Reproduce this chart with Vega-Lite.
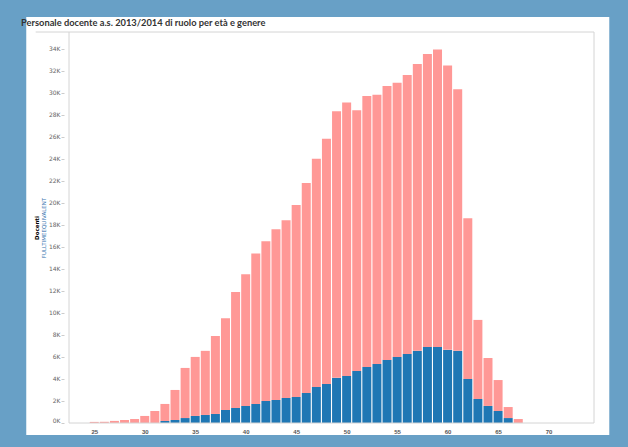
{
  "$schema": "https://vega.github.io/schema/vega-lite/v6.json",
  "width": 535,
  "height": 391,
  "autosize": {"type": "none"},
  "padding": {"left": 64, "top": 32, "right": 29, "bottom": 24},
  "background": "#ffffff",
  "title": {
    "text": "Personale docente a.s. 2013/2014 di ruolo per età e genere",
    "anchor": "start",
    "frame": "group",
    "dx": -43,
    "dy": 65,
    "offset": 4,
    "fontSize": 9.3,
    "font": "Lato",
    "fontWeight": "bold",
    "color": "#333333"
  },
  "config": {
    "view": {"stroke": null},
    "axisX": {
      "title": null,
      "ticks": false,
      "domain": false,
      "grid": false,
      "labelFlush": false,
      "labelOverlap": false,
      "labelFontSize": 6,
      "labelFontWeight": "bold",
      "labelColor": "#555555",
      "labelPadding": 5
    }
  },
  "resolve": {"axis": {"y": "independent"}},
  "data": {
    "values": [
      {"eta": 25, "genere": "Femmine", "docenti": 100},
      {"eta": 26, "genere": "Femmine", "docenti": 110},
      {"eta": 27, "genere": "Femmine", "docenti": 190},
      {"eta": 28, "genere": "Femmine", "docenti": 270},
      {"eta": 29, "genere": "Femmine", "docenti": 360},
      {"eta": 30, "genere": "Femmine", "docenti": 640},
      {"eta": 31, "genere": "Femmine", "docenti": 1090},
      {"eta": 32, "genere": "Maschi", "docenti": 180},
      {"eta": 32, "genere": "Femmine", "docenti": 1550},
      {"eta": 33, "genere": "Maschi", "docenti": 270},
      {"eta": 33, "genere": "Femmine", "docenti": 2730},
      {"eta": 34, "genere": "Maschi", "docenti": 450},
      {"eta": 34, "genere": "Femmine", "docenti": 4550},
      {"eta": 35, "genere": "Maschi", "docenti": 640},
      {"eta": 35, "genere": "Femmine", "docenti": 5360},
      {"eta": 36, "genere": "Maschi", "docenti": 730},
      {"eta": 36, "genere": "Femmine", "docenti": 5820},
      {"eta": 37, "genere": "Maschi", "docenti": 820},
      {"eta": 37, "genere": "Femmine", "docenti": 7080},
      {"eta": 38, "genere": "Maschi", "docenti": 1180},
      {"eta": 38, "genere": "Femmine", "docenti": 8320},
      {"eta": 39, "genere": "Maschi", "docenti": 1360},
      {"eta": 39, "genere": "Femmine", "docenti": 10540},
      {"eta": 40, "genere": "Maschi", "docenti": 1550},
      {"eta": 40, "genere": "Femmine", "docenti": 11950},
      {"eta": 41, "genere": "Maschi", "docenti": 1730},
      {"eta": 41, "genere": "Femmine", "docenti": 13670},
      {"eta": 42, "genere": "Maschi", "docenti": 2000},
      {"eta": 42, "genere": "Femmine", "docenti": 14500},
      {"eta": 43, "genere": "Maschi", "docenti": 2090},
      {"eta": 43, "genere": "Femmine", "docenti": 15510},
      {"eta": 44, "genere": "Maschi", "docenti": 2270},
      {"eta": 44, "genere": "Femmine", "docenti": 16130},
      {"eta": 45, "genere": "Maschi", "docenti": 2360},
      {"eta": 45, "genere": "Femmine", "docenti": 17440},
      {"eta": 46, "genere": "Maschi", "docenti": 2730},
      {"eta": 46, "genere": "Femmine", "docenti": 19070},
      {"eta": 47, "genere": "Maschi", "docenti": 3270},
      {"eta": 47, "genere": "Femmine", "docenti": 20730},
      {"eta": 48, "genere": "Maschi", "docenti": 3550},
      {"eta": 48, "genere": "Femmine", "docenti": 22250},
      {"eta": 49, "genere": "Maschi", "docenti": 4100},
      {"eta": 49, "genere": "Femmine", "docenti": 24200},
      {"eta": 50, "genere": "Maschi", "docenti": 4270},
      {"eta": 50, "genere": "Femmine", "docenti": 24830},
      {"eta": 51, "genere": "Maschi", "docenti": 4730},
      {"eta": 51, "genere": "Femmine", "docenti": 23670},
      {"eta": 52, "genere": "Maschi", "docenti": 5090},
      {"eta": 52, "genere": "Femmine", "docenti": 24610},
      {"eta": 53, "genere": "Maschi", "docenti": 5360},
      {"eta": 53, "genere": "Femmine", "docenti": 24440},
      {"eta": 54, "genere": "Maschi", "docenti": 5730},
      {"eta": 54, "genere": "Femmine", "docenti": 24870},
      {"eta": 55, "genere": "Maschi", "docenti": 6000},
      {"eta": 55, "genere": "Femmine", "docenti": 24900},
      {"eta": 56, "genere": "Maschi", "docenti": 6270},
      {"eta": 56, "genere": "Femmine", "docenti": 25330},
      {"eta": 57, "genere": "Maschi", "docenti": 6550},
      {"eta": 57, "genere": "Femmine", "docenti": 26050},
      {"eta": 58, "genere": "Maschi", "docenti": 6900},
      {"eta": 58, "genere": "Femmine", "docenti": 26600},
      {"eta": 59, "genere": "Maschi", "docenti": 6900},
      {"eta": 59, "genere": "Femmine", "docenti": 27000},
      {"eta": 60, "genere": "Maschi", "docenti": 6640},
      {"eta": 60, "genere": "Femmine", "docenti": 25810},
      {"eta": 61, "genere": "Maschi", "docenti": 6550},
      {"eta": 61, "genere": "Femmine", "docenti": 23750},
      {"eta": 62, "genere": "Maschi", "docenti": 4000},
      {"eta": 62, "genere": "Femmine", "docenti": 14600},
      {"eta": 63, "genere": "Maschi", "docenti": 2180},
      {"eta": 63, "genere": "Femmine", "docenti": 7180},
      {"eta": 64, "genere": "Maschi", "docenti": 1550},
      {"eta": 64, "genere": "Femmine", "docenti": 4350},
      {"eta": 65, "genere": "Maschi", "docenti": 1090},
      {"eta": 65, "genere": "Femmine", "docenti": 2810},
      {"eta": 66, "genere": "Maschi", "docenti": 450},
      {"eta": 66, "genere": "Femmine", "docenti": 1000},
      {"eta": 67, "genere": "Femmine", "docenti": 360}
    ]
  },
  "layer": [
    {
      "mark": {"type": "bar", "width": 9},
      "encoding": {
        "x": {
          "field": "eta",
          "type": "quantitative",
          "scale": {"domain": [22.5, 74.5], "nice": false, "zero": false}
        },
        "y": {
          "field": "docenti",
          "type": "quantitative",
          "stack": "zero",
          "scale": {"domain": [0, 35500], "nice": false},
          "axis": {
            "orient": "left",
            "values": [0, 2000, 4000, 6000, 8000, 10000, 12000, 14000, 16000, 18000, 20000, 22000, 24000, 26000, 28000, 30000, 32000, 34000],
            "labelExpr": "(datum.value / 1000) + 'K'",
            "labelFlush": true,
            "grid": false,
            "domain": false,
            "tickColor": "#cccccc",
            "tickSize": 3,
            "labelPadding": 1,
            "labelFont": "DejaVu Sans",
            "labelFontSize": 6,
            "labelColor": "#666666",
            "title": "FULLTIMEEQUIVALENT",
            "titleFont": "DejaVu Sans",
            "titleColor": "#3a75b0",
            "titleFontSize": 5.5,
            "titleFontWeight": "normal",
            "titlePadding": 2
          }
        },
        "color": {
          "field": "genere",
          "type": "nominal",
          "scale": {"domain": ["Maschi", "Femmine"], "range": ["#1f77b4", "#ff9896"]},
          "legend": null
        },
        "order": {"field": "genere", "sort": "descending"}
      }
    },
    {
      "data": {"values": [{}]},
      "mark": {"type": "rect", "fillOpacity": 0, "stroke": "#d4d4d4", "strokeWidth": 1},
      "encoding": {
        "x": {"datum": 22.5, "type": "quantitative", "scale": {"domain": [22.5, 74.5], "nice": false, "zero": false}},
        "x2": {"datum": 74.5},
        "y": {
          "datum": 0,
          "type": "quantitative",
          "scale": {"domain": [0, 35500], "nice": false},
          "axis": {
            "orient": "left",
            "labels": false,
            "ticks": false,
            "domain": false,
            "grid": false,
            "title": "Docenti",
            "titleFont": "DejaVu Sans",
            "titleFontSize": 5.5,
            "titleFontWeight": "bold",
            "titleColor": "#000000",
            "titlePadding": 25
          }
        },
        "y2": {"datum": 35500}
      }
    },
    {
      "data": {"values": [{}]},
      "mark": {"type": "rule", "stroke": "#d4d4d4", "strokeWidth": 1, "clip": false},
      "encoding": {
        "x": {"datum": 19.2, "type": "quantitative", "scale": {"domain": [22.5, 74.5], "nice": false, "zero": false}},
        "x2": {"datum": 22.5},
        "y": {"datum": 35500, "type": "quantitative", "scale": {"domain": [0, 35500], "nice": false}, "axis": null}
      }
    },
    {
      "data": {"values": [{}]},
      "mark": {"type": "rect", "fillOpacity": 0, "stroke": "#68a0c6", "strokeWidth": 50, "clip": false},
      "encoding": {
        "x": {"datum": 15.79, "type": "quantitative", "scale": {"domain": [22.5, 74.5], "nice": false, "zero": false}},
        "x2": {"datum": 78.49},
        "y": {"datum": 39130, "type": "quantitative", "scale": {"domain": [0, 35500], "nice": false}, "axis": null},
        "y2": {"datum": -3360}
      }
    }
  ]
}
